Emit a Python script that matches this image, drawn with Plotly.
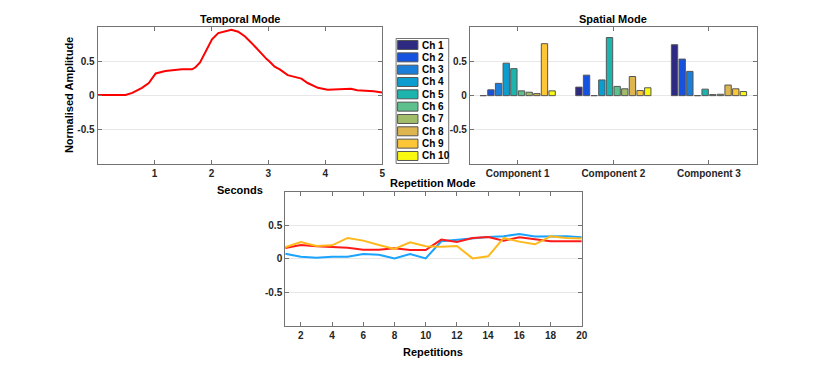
import plotly.graph_objects as go

# temporal mode (seconds, amplitude)
t_sec = [0, 0.49, 0.61, 0.78, 0.9, 1.02, 1.19, 1.37, 1.48, 1.66, 1.72, 1.8, 1.89, 2.01,
         2.12, 2.24, 2.35, 2.47, 2.59, 2.7, 2.82, 2.97, 3.02, 3.11, 3.2, 3.34, 3.46,
         3.58, 3.69, 3.87, 4.04, 4.27, 4.45, 4.56, 4.74, 4.85, 5.0]
t_amp = [0.01, 0.01, 0.04, 0.115, 0.185, 0.325, 0.36, 0.375, 0.385, 0.385, 0.415, 0.485,
         0.625, 0.825, 0.915, 0.94, 0.965, 0.935, 0.865, 0.775, 0.665, 0.535, 0.5, 0.425,
         0.385, 0.3, 0.275, 0.25, 0.185, 0.115, 0.085, 0.09, 0.1, 0.08, 0.07, 0.065, 0.045]

# spatial mode
components = ["Component 1", "Component 2", "Component 3"]
channels = ["Ch %d" % i for i in range(1, 11)]
ch_colors = ["#2E2A82", "#1552E0", "#1B7ED9", "#0C9DD0", "#1DB4AE",
             "#5DC08D", "#A1BD6A", "#DDB650", "#FCC636", "#F8F90F"]
spatial = [
    [0.0, 0.125, 0.745],
    [0.085, 0.30, 0.535],
    [0.18, 0.0, 0.355],
    [0.475, 0.23, 0.0],
    [0.395, 0.85, 0.095],
    [0.07, 0.135, 0.015],
    [0.05, 0.10, 0.02],
    [0.03, 0.28, 0.155],
    [0.76, 0.075, 0.10],
    [0.07, 0.115, 0.06],
]

# repetition mode
reps = list(range(1, 21))
rep_red = [0.16, 0.205, 0.185, 0.17, 0.165, 0.135, 0.135, 0.155, 0.13, 0.13,
           0.285, 0.25, 0.31, 0.325, 0.27, 0.32, 0.295, 0.26, 0.26, 0.26]
rep_blue = [0.075, 0.03, 0.015, 0.03, 0.03, 0.07, 0.06, 0.005, 0.07, 0.005,
            0.26, 0.28, 0.31, 0.325, 0.335, 0.37, 0.33, 0.33, 0.335, 0.32]
rep_orange = [0.17, 0.25, 0.19, 0.2, 0.31, 0.27, 0.205, 0.145, 0.245, 0.185,
              0.18, 0.19, 0.005, 0.035, 0.31, 0.255, 0.215, 0.335, 0.31, 0.30]

W, H = 830, 371
FONT = "Liberation Sans"
tickfont = dict(family=FONT, size=10, color="#262626", weight="bold")

fig = go.Figure()

fig.add_trace(go.Scatter(x=t_sec, y=t_amp, mode="lines", line=dict(color="#FF0000", width=2),
                         xaxis="x", yaxis="y", showlegend=False))

for i, ch in enumerate(channels):
    fig.add_trace(go.Bar(x=[1, 2, 3], y=spatial[i], name=ch, marker=dict(
        color=ch_colors[i], line=dict(color="#555555", width=1)),
        xaxis="x2", yaxis="y2", showlegend=False))

fig.add_trace(go.Scatter(x=reps, y=rep_blue, mode="lines", line=dict(color="#1AA3FF", width=2),
                         xaxis="x3", yaxis="y3", showlegend=False))
fig.add_trace(go.Scatter(x=reps, y=rep_red, mode="lines", line=dict(color="#FF1A1A", width=2),
                         xaxis="x3", yaxis="y3", showlegend=False))
fig.add_trace(go.Scatter(x=reps, y=rep_orange, mode="lines", line=dict(color="#FFB81A", width=2),
                         xaxis="x3", yaxis="y3", showlegend=False))


def px(x):
    return x / W


def py(y):
    return 1 - y / H


ax_common = dict(showline=True, linecolor="#737373", linewidth=1, mirror="ticks",
                 ticks="inside", ticklen=4, tickcolor="#737373", tickfont=tickfont,
                 zeroline=False)
yax = dict(ax_common, range=[-1, 1], tickvals=[-0.5, 0, 0.5], ticktext=["-0.5", "0", "0.5"],
           showgrid=True, gridcolor="#E8E8E8", gridwidth=1)

fig.update_layout(
    width=W, height=H, margin=dict(l=0, r=0, t=0, b=0),
    paper_bgcolor="white", plot_bgcolor="white",
    barmode="group", bargap=0.2, bargroupgap=0.17,
    xaxis=dict(ax_common, domain=[px(98.3), px(385)], range=[0, 5], tickvals=[1, 2, 3, 4, 5],
               showgrid=False, anchor="y"),
    yaxis=dict(yax, domain=[py(164), py(27.3)], anchor="x"),
    xaxis2=dict(ax_common, domain=[px(473.3), px(762.3)], range=[0.5, 3.5], tickvals=[1, 2, 3],
                ticktext=components, showgrid=False, anchor="y2"),
    yaxis2=dict(yax, domain=[py(164), py(27.3)], anchor="x2"),
    xaxis3=dict(ax_common, domain=[px(287.3), px(586)], range=[1, 20], tickvals=list(range(2, 21, 2)),
                showgrid=False, anchor="y3"),
    yaxis3=dict(yax, domain=[py(325.7), py(191.7)], anchor="x3"),
)

lab = dict(family=FONT, size=11, color="#000000", weight="bold")
texts = [
    ("Temporal Mode", 241.6, 19),
    ("Spatial Mode", 617.8, 19),
    ("Repetition Mode", 436.6, 183),
    ("Seconds", 241.6, 190),
    ("Repetitions", 436.6, 352),
]
for s, x, y in texts:
    fig.add_annotation(text=s, x=px(x), y=py(y), xref="paper", yref="paper",
                       showarrow=False, font=lab, xanchor="center", yanchor="middle")
fig.add_annotation(text="Normalised Amplitude", x=px(69), y=py(95.6), xref="paper", yref="paper",
                   showarrow=False, font=lab, textangle=-90, xanchor="center", yanchor="middle")

# legend box for channels
lx0, lx1, ly0, ly1 = 399, 452, 38.5, 163.5
fig.add_shape(type="rect", xref="paper", yref="paper", x0=px(lx0), x1=px(lx1), y0=py(ly1), y1=py(ly0),
              line=dict(color="#737373", width=1), fillcolor="white")
for i, ch in enumerate(channels):
    yc = 45 + i * 12.33
    fig.add_shape(type="rect", xref="paper", yref="paper", x0=px(400.5), x1=px(421),
                  y0=py(yc + 4.5), y1=py(yc - 4.5), fillcolor=ch_colors[i],
                  line=dict(color="#555555", width=1))
    fig.add_annotation(text=ch, x=px(423.5), y=py(yc), xref="paper", yref="paper", showarrow=False,
                       font=dict(family=FONT, size=10, color="#000000", weight="bold"),
                       xanchor="left", yanchor="middle")

fig.write_html("out.html", config={"displayModeBar": False},
               post_script="document.body.style.margin='0';")
